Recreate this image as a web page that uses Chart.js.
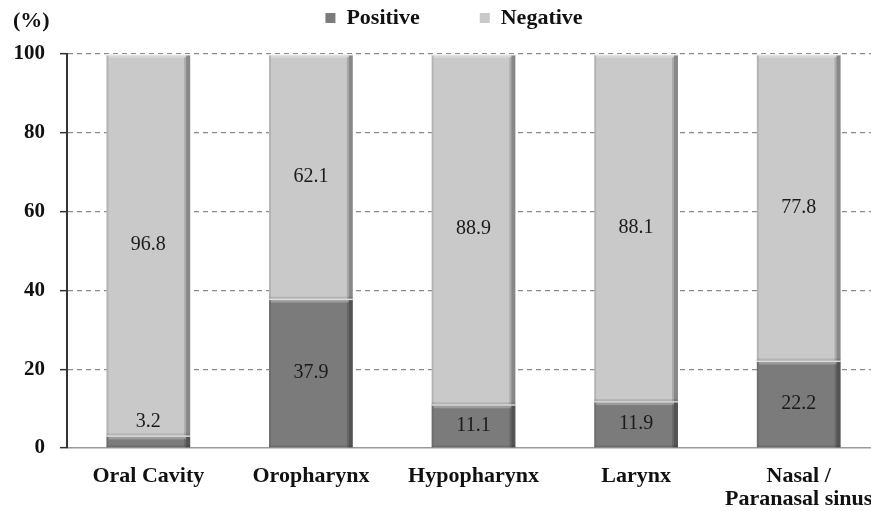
<!DOCTYPE html>
<html>
<head>
<meta charset="utf-8">
<script src="https://cdn.jsdelivr.net/npm/chart.js@4/dist/chart.umd.min.js"></script>
<style>
  html, body { margin: 0; padding: 0; background: #fff; overflow: hidden; }
  #wrap { position: relative; width: 885px; height: 511px; }
  #unit { position: absolute; left: 13px; top: 7px; font: bold 22px 'Liberation Serif', 'Times New Roman', serif; color: #111; }
</style>
</head>
<body>
<div id="wrap">
  <canvas id="chart" width="885" height="511"></canvas>
  <div id="unit">(%)</div>
</div>
<script>
const categories = ['Oral Cavity', 'Oropharynx', 'Hypopharynx', 'Larynx', ['Nasal /', 'Paranasal sinus']]
const positive = [3.2, 37.9, 11.1, 11.9, 22.2]
const negative = [96.8, 62.1, 88.9, 88.1, 77.8]
const yTicks = [0, 20, 40, 60, 80, 100]

const serif = "'Liberation Serif', 'Times New Roman', serif"
Chart.defaults.font.family = serif

// legend sits in its own band above the plot (plot top at y=54),
// and is nudged right a bit like in the original
const legendBand = {
  id: 'legendBand',
  beforeInit(chart) {
    const legend = chart.legend
    if (!legend) return
    const fit = legend.fit
    legend.fit = function () {
      fit.call(this)
      this.height = 107
    }
  },
  afterLayout(chart) {
    if (!chart.legend) return
    chart.legend.left += 10
    chart.legend.right += 10
  }
}

// fake the 3D look of the original bars
const bevel = {
  id: 'bevel',
  afterDatasetsDraw(chart) {
    const ctx = chart.ctx
    chart.data.datasets.forEach((ds, i) => {
      chart.getDatasetMeta(i).data.forEach(bar => {
        const { x, y, base, width } = bar.getProps(['x', 'y', 'base', 'width'], true)
        const l = x - width / 2
        const r = x + width / 2
        const t = Math.min(y, base)
        const b = Math.max(y, base)
        const h = b - t
        ctx.save()
        ctx.fillStyle = 'rgba(255,255,255,0.75)'
        ctx.fillRect(l, t, width, 1.5)
        ctx.fillStyle = 'rgba(255,255,255,0.25)'
        ctx.fillRect(l + 2, t + 1.5, width - 6, 2.5)
        ctx.fillStyle = 'rgba(0,0,0,0.32)'
        ctx.fillRect(r - 4, t + 1.5, 4, h - 1.5)
        ctx.fillStyle = 'rgba(0,0,0,0.15)'
        ctx.fillRect(r - 6, t + 3, 2, h - 3)
        ctx.fillStyle = 'rgba(0,0,0,0.10)'
        ctx.fillRect(l, t + 1.5, 2, h - 1.5)
        ctx.fillRect(l, b - 2, width, 2)
        ctx.restore()
      })
    })
  }
}

// value labels inside the segments
const valueLabels = {
  id: 'valueLabels',
  afterDatasetsDraw(chart) {
    const ctx = chart.ctx
    ctx.save()
    ctx.font = '20px ' + serif
    ctx.fillStyle = '#1a1a1a'
    ctx.textAlign = 'center'
    ctx.textBaseline = 'middle'
    chart.data.datasets.forEach((ds, i) => {
      chart.getDatasetMeta(i).data.forEach((bar, j) => {
        const { x, y, base } = bar.getProps(['x', 'y', 'base'], true)
        const h = Math.abs(base - y)
        // too thin to hold the text: put it just above the segment
        const ty = h < 26 && ds.data[j] < 5 ? Math.min(y, base) - 14 : (y + base) / 2
        ctx.fillText(ds.data[j].toFixed(1), x, ty)
      })
    })
    ctx.restore()
  }
}

new Chart(document.getElementById('chart'), {
  type: 'bar',
  data: {
    labels: categories,
    datasets: [
      { label: 'Positive', data: positive, backgroundColor: '#7b7b7b', barPercentage: 0.515, categoryPercentage: 1 },
      { label: 'Negative', data: negative, backgroundColor: '#c9c9c9', barPercentage: 0.515, categoryPercentage: 1 }
    ]
  },
  options: {
    responsive: false,
    animation: false,
    layout: { padding: { left: 8, right: 5, top: -53, bottom: 0 } },
    plugins: {
      legend: {
        position: 'top',
        labels: {
          usePointStyle: true,
          pointStyle: 'rect',
          boxWidth: 10,
          boxHeight: 10,
          padding: 60,
          color: '#111',
          font: { size: 22, weight: 'bold' }
        }
      },
      tooltip: { enabled: false }
    },
    scales: {
      x: {
        stacked: true,
        grid: { display: false },
        border: { display: true, color: '#9a9a9a', width: 1.5 },
        ticks: {
          padding: 9,
          color: '#111',
          maxRotation: 0,
          autoSkip: false,
          font: { size: 22, weight: 'bold', lineHeight: 1.05 }
        },
        afterFit(scale) { scale.height = 63 }
      },
      y: {
        stacked: true,
        min: 0,
        max: 100,
        afterBuildTicks(scale) { scale.ticks = yTicks.map(v => ({ value: v })) },
        grid: {
          color: ctx => ctx.tick && ctx.tick.value === 0 ? 'rgba(0,0,0,0)' : '#8a8a8a',
          lineWidth: 1.3,
          tickColor: '#333',
          tickLength: 7,
          tickWidth: 1.5,
          tickBorderDash: []
        },
        border: { display: true, color: '#333', width: 2, dash: [5, 4] },
        ticks: {
          padding: 15,
          color: '#111',
          font: { size: 21, weight: 'bold' }
        },
        afterFit(scale) { scale.width = 59 }
      }
    }
  },
  plugins: [legendBand, bevel, valueLabels]
})
</script>
</body>
</html>
